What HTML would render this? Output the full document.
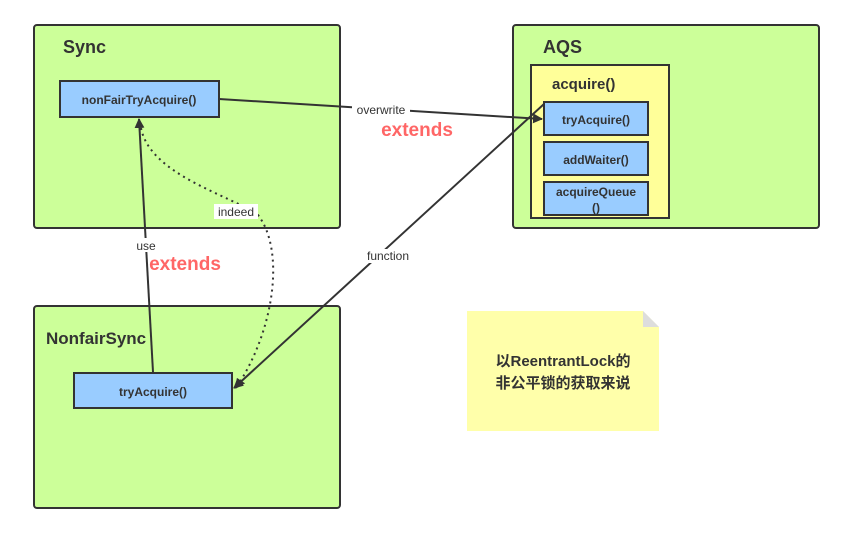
<!DOCTYPE html>
<html><head><meta charset="utf-8"><style>body{margin:0;background:#fff}svg{display:block}</style></head><body>
<svg width="844" height="533" viewBox="0 0 844 533" xmlns="http://www.w3.org/2000/svg" font-family="'Liberation Sans','Noto Sans CJK SC',sans-serif">
<defs><marker id="a" markerWidth="10" markerHeight="10" refX="9" refY="5" orient="auto" markerUnits="userSpaceOnUse"><path d="M0,0 L10,5 L0,10 z" fill="#333"/></marker></defs>
<rect x="34" y="25" width="306" height="203" rx="3" fill="#ccff99" stroke="#333" stroke-width="2"/>
<rect x="513" y="25" width="306" height="203" rx="3" fill="#ccff99" stroke="#333" stroke-width="2"/>
<rect x="34" y="306" width="306" height="202" rx="3" fill="#ccff99" stroke="#333" stroke-width="2"/>
<text x="63" y="53" font-size="18" font-weight="bold" fill="#333">Sync</text>
<text x="543" y="53" font-size="18" font-weight="bold" fill="#333">AQS</text>
<text x="46" y="344" font-size="17" font-weight="bold" fill="#333">NonfairSync</text>
<rect x="531" y="65" width="138" height="153" fill="#ffff99" stroke="#333" stroke-width="2"/>
<text x="552" y="89" font-size="15" font-weight="bold" fill="#333">acquire()</text>
<g font-size="12" font-weight="bold" fill="#333" text-anchor="middle">
<rect x="544" y="102" width="104" height="33" fill="#99ccff" stroke="#333" stroke-width="2"/><text x="596" y="124">tryAcquire()</text>
<rect x="544" y="142" width="104" height="33" fill="#99ccff" stroke="#333" stroke-width="2"/><text x="596" y="164">addWaiter()</text>
<rect x="544" y="182" width="104" height="33" fill="#99ccff" stroke="#333" stroke-width="2"/><text x="596" y="196">acquireQueue</text><text x="596" y="212">()</text>
<rect x="60" y="81" width="159" height="36" fill="#99ccff" stroke="#333" stroke-width="2"/><text x="139" y="104">nonFairTryAcquire()</text>
<rect x="74" y="373" width="158" height="35" fill="#99ccff" stroke="#333" stroke-width="2"/><text x="153" y="396">tryAcquire()</text>
</g>
<path d="M467,311 H643 L659,327 V431 H467 Z" fill="#ffffaa"/>
<path d="M643,311 V327 H659 Z" fill="#ddd"/>
<text x="563" y="366" font-size="15" font-weight="bold" fill="#333" text-anchor="middle">以ReentrantLock的</text>
<text x="563" y="388" font-size="15" font-weight="bold" fill="#333" text-anchor="middle">非公平锁的获取来说</text>
<g stroke="#333" stroke-width="2" fill="none">
<line x1="219" y1="99" x2="542" y2="119" marker-end="url(#a)"/>
<line x1="544" y1="104" x2="234" y2="388" marker-end="url(#a)"/>
<line x1="153" y1="372" x2="139" y2="119" marker-end="url(#a)"/>
<path d="M141,128 C150,175 230,195 258,215 C285,250 275,330 236,388" stroke-dasharray="2,4" marker-end="url(#a)"/>
</g>
<g font-size="12" fill="#333" text-anchor="middle">
<rect x="352" y="102" width="58" height="14" fill="#fff"/><text x="381" y="114">overwrite</text>
<rect x="214" y="204" width="44" height="15" fill="#fff"/><text x="236" y="216">indeed</text>
<rect x="133" y="238" width="26" height="14" fill="#fff"/><text x="146" y="250">use</text>
<rect x="361" y="249" width="54" height="14" fill="#fff"/><text x="388" y="260">function</text>
</g>
<g font-size="19" font-weight="bold" fill="#ff6666" text-anchor="middle">
<text x="417" y="136">extends</text>
<text x="185" y="270">extends</text>
</g>
</svg>
</body></html>
